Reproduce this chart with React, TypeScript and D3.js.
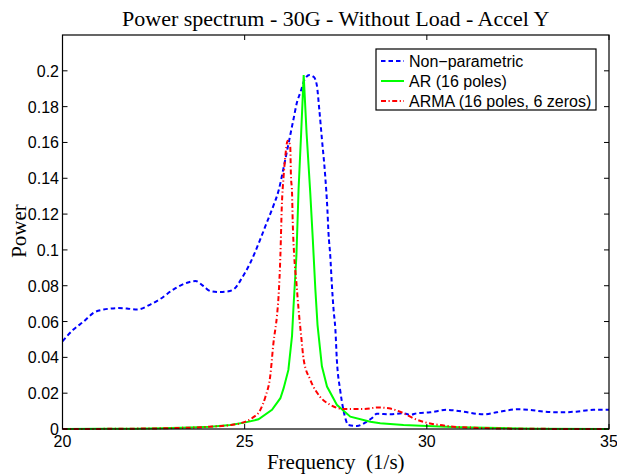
import React from "react";
import * as d3 from "d3";

// Non-parametric (Welch) estimate
const npFreq = [20.0, 20.3, 20.58, 20.86, 21.13, 21.54, 21.8, 22.05, 22.41, 22.69, 23.05, 23.42, 23.65, 23.87, 24.06, 24.3, 24.52, 24.7, 24.93, 25.16, 25.43, 25.61, 25.79, 25.93, 26.07, 26.21, 26.34, 26.44, 26.53, 26.66, 26.78, 26.9, 26.98, 27.05, 27.12, 27.21, 27.27, 27.3, 27.35, 27.39, 27.44, 27.49, 27.53, 27.62, 27.71, 27.85, 28.08, 28.35, 28.49, 28.63, 29.0, 29.36, 29.54, 29.73, 30.09, 30.55, 31.0, 31.55, 31.92, 32.47, 32.83, 33.2, 33.65, 34.1, 34.57, 35.0];
const npPower = [0.049, 0.0555, 0.06, 0.065, 0.0667, 0.0675, 0.0672, 0.0667, 0.0695, 0.0727, 0.078, 0.0817, 0.0826, 0.0798, 0.077, 0.0765, 0.0768, 0.078, 0.0845, 0.093, 0.106, 0.1154, 0.1247, 0.133, 0.146, 0.16, 0.173, 0.1827, 0.188, 0.1957, 0.1976, 0.1965, 0.192, 0.178, 0.162, 0.1415, 0.1228, 0.1097, 0.0966, 0.0817, 0.0667, 0.0555, 0.0387, 0.0219, 0.0107, 0.0022, 0.0017, 0.0041, 0.006, 0.0085, 0.0082, 0.0088, 0.0079, 0.0088, 0.0093, 0.0107, 0.0097, 0.0082, 0.0093, 0.011, 0.0107, 0.0097, 0.0093, 0.0097, 0.0107, 0.0107];

// AR model (16 poles)
const arFreq = [20, 21, 22, 22.69, 23.5, 24.06, 24.61, 25.02, 25.38, 25.75, 25.98, 26.07, 26.2, 26.3, 26.34, 26.42, 26.48, 26.55, 26.62, 26.7, 26.8, 26.87, 26.94, 27.0, 27.12, 27.26, 27.53, 27.9, 28.45, 28.72, 29.36, 30.0, 30.9, 32, 33, 35];
const arPower = [0, 0.0001, 0.0002, 0.0004, 0.0008, 0.0013, 0.0022, 0.0037, 0.0054, 0.0107, 0.0172, 0.0228, 0.033, 0.052, 0.068, 0.0966, 0.134, 0.165, 0.1976, 0.165, 0.132, 0.106, 0.078, 0.058, 0.035, 0.0237, 0.0135, 0.0069, 0.0041, 0.0032, 0.0022, 0.0017, 0.001, 0.0005, 0.0002, 0];

// ARMA model (16 poles, 6 zeros)
const armaFreq = [20, 22, 23, 24, 24.61, 24.88, 25.2, 25.43, 25.57, 25.7, 25.79, 25.89, 25.93, 25.98, 26.02, 26.07, 26.11, 26.18, 26.25, 26.27, 26.3, 26.32, 26.36, 26.42, 26.48, 26.55, 26.62, 26.8, 27.07, 27.35, 27.71, 28.26, 28.67, 28.85, 29.0, 29.36, 29.63, 30.0, 30.36, 30.73, 31.3, 32, 33, 35];
const armaPower = [0, 0.0002, 0.0005, 0.0012, 0.0022, 0.0032, 0.006, 0.0107, 0.018, 0.0293, 0.048, 0.064, 0.074, 0.0966, 0.1247, 0.1415, 0.151, 0.161, 0.158, 0.1415, 0.132, 0.115, 0.0966, 0.0817, 0.0667, 0.052, 0.0387, 0.0275, 0.018, 0.0135, 0.0112, 0.0112, 0.012, 0.0118, 0.0114, 0.0088, 0.006, 0.0035, 0.0022, 0.0013, 0.0007, 0.0003, 0.0001, 0];

const xTicks = [20, 25, 30, 35];
const yTicks = [0, 0.02, 0.04, 0.06, 0.08, 0.1, 0.12, 0.14, 0.16, 0.18, 0.2];
const legendLabels = ["Non\u2212parametric", "AR (16 poles)", "ARMA (16 poles, 6 zeros)"];

const W = 617;
const H = 474;
const left = 62.5;
const right = 609;
const top = 35;
const bottom = 429;

const serif = "'Liberation Serif', 'Times New Roman', serif";
const sans = "'Liberation Sans', Arial, Helvetica, sans-serif";

type Series = { xs: number[]; ys: number[]; color: string; dash?: string; curve: d3.CurveFactory };

export default function App() {
  const x = d3.scaleLinear().domain([20, 35]).range([left, right]);
  const y = d3.scaleLinear().domain([0, 0.22]).range([bottom, top]);

  const series: Series[] = [
    { xs: npFreq, ys: npPower, color: "#0000ff", dash: "4.5,3", curve: d3.curveMonotoneX },
    { xs: arFreq, ys: arPower, color: "#00ff00", curve: d3.curveLinear },
    { xs: armaFreq, ys: armaPower, color: "#ff0000", dash: "5,2.5,1.2,2.5", curve: d3.curveMonotoneX },
  ];

  const pathFor = (s: Series) =>
    d3
      .line<number>()
      .x((_, i) => x(s.xs[i]))
      .y((v) => y(v))
      .curve(s.curve)(s.ys) || "";

  const tickLen = 5;
  const legX = 376;
  const legY = 49;
  const legW = 220;
  const legH = 61;
  const rowY = [61, 81, 101];

  return (
    <svg width={W} height={H} style={{ position: "absolute", left: 0, top: 0, background: "#fff" }}>
      <rect x={0} y={0} width={W} height={H} fill="#fff" />
      <defs>
        <clipPath id="plotArea">
          <rect x={left} y={top - 2} width={right - left} height={bottom - top + 4} />
        </clipPath>
      </defs>

      {/* curves */}
      <g clipPath="url(#plotArea)">
        {series.map((s, i) => (
          <path
            key={i}
            d={pathFor(s)}
            fill="none"
            stroke={s.color}
            strokeWidth={2}
            strokeDasharray={s.dash}
          />
        ))}
      </g>

      {/* frame */}
      <rect x={left} y={top} width={right - left} height={bottom - top} fill="none" stroke="#000" strokeWidth={1.2} />

      {/* x ticks */}
      {xTicks.map((t) => (
        <g key={"x" + t}>
          <line x1={x(t)} x2={x(t)} y1={bottom} y2={bottom - tickLen} stroke="#000" strokeWidth={1} />
          <line x1={x(t)} x2={x(t)} y1={top} y2={top + tickLen} stroke="#000" strokeWidth={1} />
          <text x={x(t)} y={447} textAnchor="middle" fontFamily={sans} fontSize={16} fill="#000">
            {t}
          </text>
        </g>
      ))}

      {/* y ticks */}
      {yTicks.map((t) => (
        <g key={"y" + t}>
          <line x1={left} x2={left + tickLen} y1={y(t)} y2={y(t)} stroke="#000" strokeWidth={1} />
          <line x1={right} x2={right - tickLen} y1={y(t)} y2={y(t)} stroke="#000" strokeWidth={1} />
          <text x={59} y={y(t) + 6} textAnchor="end" fontFamily={sans} fontSize={16} fill="#000">
            {d3.format("~g")(t)}
          </text>
        </g>
      ))}

      {/* titles */}
      <text x={(left + right) / 2} y={26} textAnchor="middle" fontFamily={serif} fontSize={22} fill="#000">
        Power spectrum - 30G - Without Load - Accel Y
      </text>
      <text x={(left + right) / 2} y={469} textAnchor="middle" fontFamily={serif} fontSize={21} fill="#000" style={{ whiteSpace: "pre" }}>
        Frequency  (1/s)
      </text>
      <text
        transform={`translate(26, ${231}) rotate(-90)`}
        textAnchor="middle"
        fontFamily={serif}
        fontSize={21}
        fill="#000"
      >
        Power
      </text>

      {/* legend */}
      <rect x={legX} y={legY} width={legW} height={legH} fill="#fff" stroke="#000" strokeWidth={1.2} />
      {series.map((s, i) => (
        <g key={"leg" + i}>
          <line
            x1={381}
            x2={404}
            y1={rowY[i]}
            y2={rowY[i]}
            stroke={s.color}
            strokeWidth={2}
            strokeDasharray={s.dash}
          />
          <text x={409} y={rowY[i] + 6} fontFamily={sans} fontSize={16} fill="#000">
            {legendLabels[i]}
          </text>
        </g>
      ))}
    </svg>
  );
}
